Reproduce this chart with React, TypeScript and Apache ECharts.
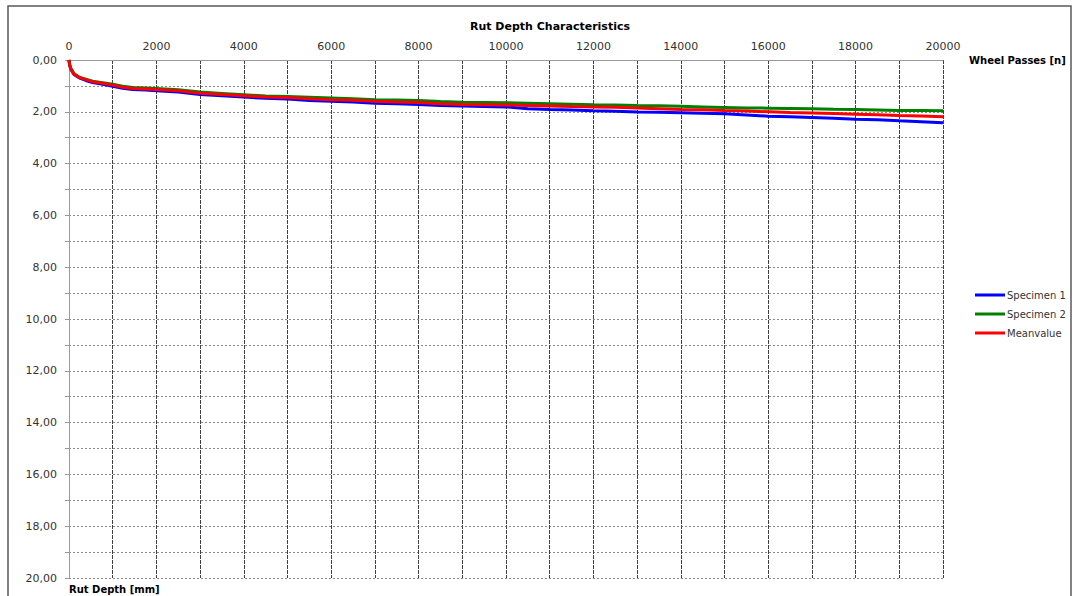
import React, { useEffect, useRef } from "react";
import * as echarts from "echarts";

const passes = [0, 15, 40, 60, 115, 230, 385, 540, 770, 1000, 1230, 1460, 1750,
  2000, 2500, 3000, 3500, 4000, 4500, 5000, 5500, 6000, 6500, 7000, 7500, 8000, 8500, 9000, 9500,
  10000, 10500, 11000, 11500, 12000, 12500, 13000, 13500, 14000, 14500, 15000, 15500, 16000,
  16500, 17000, 17500, 18000, 18500, 19000, 19500, 20000];

const specimen1 = [0, 0.20, 0.35, 0.41, 0.56, 0.69, 0.79, 0.87, 0.94, 1.01, 1.09, 1.14, 1.16,
  1.19, 1.24, 1.33, 1.38, 1.43, 1.48, 1.51, 1.56, 1.59, 1.62, 1.67, 1.69, 1.72, 1.76, 1.78, 1.80,
  1.81, 1.88, 1.91, 1.93, 1.96, 1.98, 2.01, 2.02, 2.04, 2.06, 2.08, 2.12, 2.17,
  2.19, 2.22, 2.25, 2.29, 2.31, 2.35, 2.38, 2.42];

const specimen2 = [0, 0.18, 0.32, 0.38, 0.53, 0.66, 0.74, 0.82, 0.88, 0.94, 1.01, 1.06, 1.08,
  1.10, 1.15, 1.24, 1.29, 1.34, 1.39, 1.41, 1.44, 1.47, 1.50, 1.53, 1.54, 1.56, 1.60, 1.63, 1.64,
  1.65, 1.67, 1.69, 1.71, 1.73, 1.74, 1.76, 1.77, 1.79, 1.81, 1.83, 1.85, 1.86,
  1.87, 1.88, 1.90, 1.91, 1.93, 1.95, 1.95, 1.96];

const meanvalue = [0, 0.19, 0.33, 0.39, 0.54, 0.67, 0.76, 0.84, 0.90, 0.97, 1.05, 1.10, 1.12,
  1.14, 1.19, 1.28, 1.33, 1.38, 1.43, 1.45, 1.50, 1.53, 1.55, 1.59, 1.62, 1.64, 1.69, 1.72, 1.73,
  1.74, 1.76, 1.78, 1.80, 1.81, 1.82, 1.85, 1.88, 1.91, 1.92, 1.95, 1.97, 2.00,
  2.03, 2.05, 2.07, 2.09, 2.11, 2.14, 2.16, 2.19];

const seriesNames = ["Specimen 1", "Specimen 2", "Meanvalue"];
const seriesColors = ["#0000ff", "#008000", "#ff0000"];

const FONT = "DejaVu Sans";

export default function App() {
  const ref = useRef<HTMLDivElement>(null);
  useEffect(() => {
    document.body.style.margin = "0";
    const chart = echarts.init(ref.current!, null, { renderer: "svg" });
    const data = [specimen1, specimen2, meanvalue];
    chart.setOption({
      animation: false,
      backgroundColor: "#ffffff",
      title: {
        text: "Rut Depth Characteristics",
        left: 545,
        textAlign: "center",
        top: 16,
        textStyle: { fontFamily: FONT, fontSize: 11, fontWeight: "bold", color: "#000" },
      },
      graphic: [
        {
          type: "rect",
          shape: { x: 8, y: 6, width: 1063, height: 600 },
          style: { fill: "none", stroke: "#595959", lineWidth: 1.5 },
          silent: true,
        },
      ],
      legend: {
        orient: "vertical",
        left: 975,
        top: 290,
        padding: 0,
        itemGap: 9,
        itemWidth: 30,
        itemHeight: 3,
        icon: "rect",
        data: seriesNames,
        textStyle: { fontFamily: FONT, fontSize: 10, color: "#333", padding: [0, 0, 0, -3] },
      },
      grid: { left: 69, top: 60, width: 874, height: 518 },
      xAxis: {
        type: "value",
        position: "top",
        min: 0,
        max: 20000,
        interval: 1000,
        name: "Wheel Passes [n]",
        nameLocation: "end",
        nameGap: 26,
        nameTextStyle: { fontFamily: FONT, fontSize: 10, fontWeight: "bold", color: "#000", verticalAlign: "middle" },
        axisLine: { show: true, lineStyle: { color: "#9a9a9a", width: 1 } },
        axisTick: { show: false },
        axisLabel: {
          fontFamily: FONT,
          fontSize: 11,
          color: "#333",
          margin: 8,
          formatter: (v: number) => (v % 2000 === 0 ? String(v) : ""),
        },
        splitLine: { show: true, lineStyle: { color: "#404040", width: 1, type: [4, 1] } },
      },
      yAxis: {
        type: "value",
        inverse: true,
        min: 0,
        max: 20,
        interval: 1,
        name: "Rut Depth [mm]",
        nameLocation: "end",
        nameGap: 11,
        nameTextStyle: { fontFamily: FONT, fontSize: 10, fontWeight: "bold", color: "#000", align: "left", verticalAlign: "middle" },
        axisLine: { show: true, lineStyle: { color: "#9a9a9a", width: 1 } },
        axisTick: { show: true, length: 4, lineStyle: { color: "#9a9a9a" } },
        axisLabel: {
          fontFamily: FONT,
          fontSize: 11,
          color: "#333",
          margin: 12,
          formatter: (v: number) => (v % 2 === 0 ? v.toFixed(2).replace(".", ",") : ""),
        },
        splitLine: { show: true, lineStyle: { color: "#8a8a8a", width: 1, type: [2, 2] } },
      },
      series: seriesNames.map((name, i) => ({
        name,
        type: "line",
        data: passes.map((p, j) => [p, data[i][j]]),
        symbol: "none",
        smooth: false,
        z: 2 + i,
        itemStyle: { color: seriesColors[i] },
        lineStyle: { color: seriesColors[i], width: 3 },
      })),
    });
    return () => chart.dispose();
  }, []);
  return <div ref={ref} style={{ width: 1075, height: 596 }} />;
}
